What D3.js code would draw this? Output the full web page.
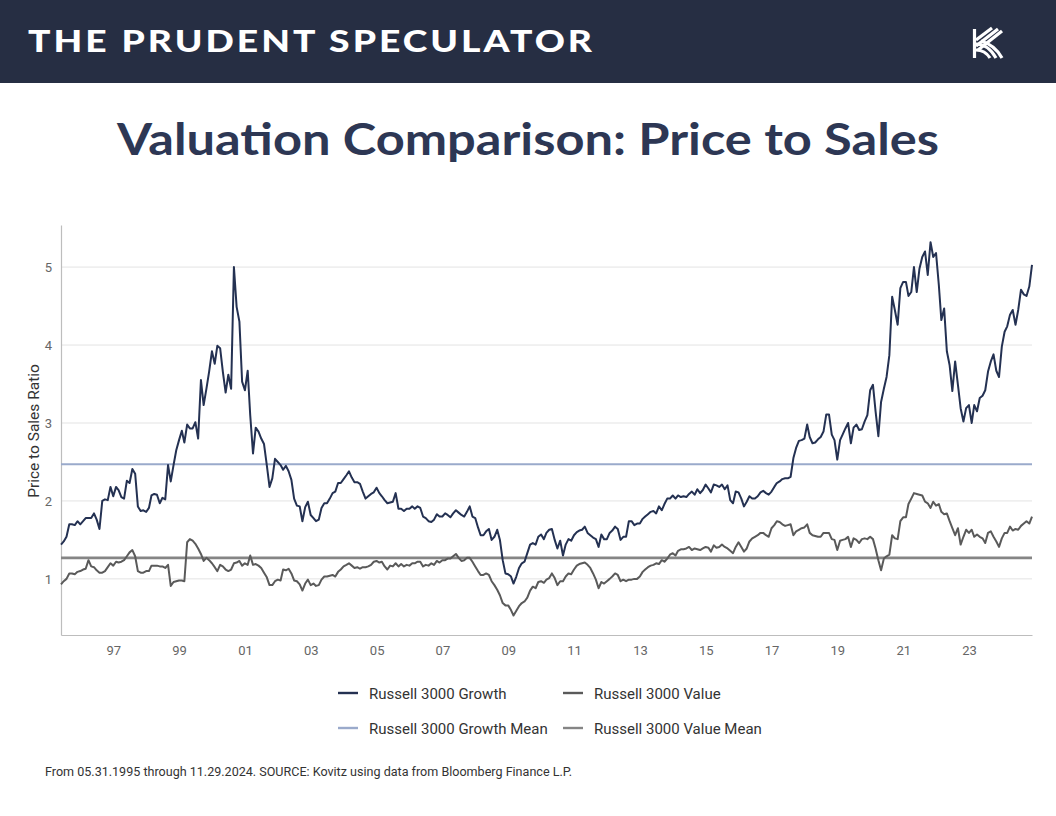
<!DOCTYPE html>
<html>
<head>
<meta charset="utf-8">
<script src="https://cdn.jsdelivr.net/npm/d3@7"></script>
<style>
  html, body { margin: 0; padding: 0; background: #ffffff; }
  svg { display: block; }
</style>
</head>
<body>
<svg id="chart" width="1056" height="816"></svg>
<script>
// ---------------- DATA (month-end values, May 1995 .. Nov 2024) ----------------
const startYear = 1995, startMonth = 4; // May (0-based)
const growth = [
  1.44,1.48,1.54,1.70,1.70,1.69,1.74,1.70,1.74,1.78,
  1.78,1.78,1.84,1.76,1.64,2.00,2.02,2.01,2.18,2.06,
  2.18,2.14,2.05,2.03,2.26,2.23,2.41,2.35,1.93,1.87,
  1.88,1.86,1.91,2.07,2.09,2.08,1.97,2.04,2.02,2.46,
  2.25,2.46,2.65,2.78,2.90,2.75,2.98,2.93,2.93,3.01,
  2.80,3.55,3.23,3.44,3.66,3.92,3.76,3.99,3.96,3.66,
  3.39,3.62,3.44,5.00,4.49,4.30,3.53,3.42,3.67,3.10,
  2.61,2.94,2.89,2.80,2.73,2.46,2.18,2.29,2.54,2.50,
  2.46,2.40,2.45,2.38,2.27,2.03,1.94,1.93,1.74,1.92,
  1.99,1.82,1.78,1.74,1.76,1.91,1.97,1.97,2.03,2.10,
  2.12,2.23,2.23,2.28,2.33,2.38,2.30,2.24,2.24,2.22,
  2.12,2.03,2.06,2.09,2.11,2.17,2.10,2.06,2.01,1.97,
  1.98,1.99,2.10,1.90,1.90,1.87,1.90,1.90,1.93,1.90,
  1.93,1.91,1.80,1.78,1.74,1.73,1.76,1.83,1.80,1.80,
  1.84,1.82,1.79,1.84,1.88,1.85,1.82,1.80,1.86,1.93,
  1.80,1.78,1.66,1.56,1.56,1.61,1.64,1.50,1.54,1.63,
  1.50,1.24,1.07,1.06,1.03,0.94,1.03,1.14,1.20,1.22,
  1.33,1.44,1.46,1.44,1.54,1.57,1.51,1.59,1.63,1.64,
  1.50,1.39,1.49,1.30,1.44,1.51,1.49,1.56,1.60,1.62,
  1.63,1.67,1.59,1.56,1.53,1.51,1.41,1.57,1.51,1.51,
  1.59,1.62,1.67,1.64,1.50,1.54,1.54,1.74,1.74,1.69,
  1.71,1.71,1.77,1.80,1.83,1.86,1.87,1.84,1.93,1.88,
  1.96,2.03,2.03,2.07,2.03,2.07,2.05,2.06,2.05,2.09,
  2.12,2.08,2.15,2.10,2.14,2.21,2.16,2.11,2.21,2.20,
  2.18,2.21,2.15,2.20,2.01,1.97,2.12,2.11,2.03,1.93,
  1.99,2.06,2.03,2.03,2.06,2.11,2.13,2.10,2.08,2.12,
  2.18,2.23,2.25,2.28,2.29,2.29,2.31,2.55,2.68,2.77,
  2.78,2.80,2.98,2.82,2.74,2.75,2.79,2.82,2.89,3.11,
  3.11,2.85,2.78,2.53,2.78,2.85,2.93,3.00,2.74,2.94,
  2.98,2.91,2.92,3.02,3.10,3.42,3.49,3.15,2.83,3.27,
  3.44,3.59,3.87,4.62,4.45,4.26,4.73,4.81,4.81,4.63,
  4.68,5.00,4.68,4.98,5.13,5.20,4.90,5.32,5.13,5.18,
  4.77,4.32,4.47,3.92,3.74,3.41,3.79,3.49,3.19,3.02,
  3.19,3.23,3.00,3.23,3.15,3.32,3.35,3.42,3.66,3.79,
  3.88,3.67,3.59,3.98,4.17,4.24,4.39,4.45,4.26,4.45,
  4.71,4.65,4.63,4.75,5.03
];
const value = [
  0.93,0.97,1.00,1.07,1.07,1.06,1.09,1.10,1.12,1.13,
  1.24,1.16,1.15,1.11,1.08,1.08,1.10,1.15,1.20,1.17,
  1.22,1.21,1.22,1.24,1.29,1.34,1.37,1.29,1.10,1.08,
  1.08,1.10,1.10,1.17,1.17,1.17,1.16,1.16,1.14,1.18,
  0.91,0.96,0.97,0.98,0.98,0.97,1.47,1.51,1.49,1.45,
  1.39,1.32,1.23,1.27,1.24,1.20,1.15,1.10,1.18,1.16,
  1.12,1.10,1.12,1.20,1.21,1.23,1.17,1.20,1.18,1.30,
  1.18,1.19,1.17,1.14,1.08,1.02,0.92,0.92,0.97,0.99,
  0.98,1.12,1.11,1.13,1.07,0.98,0.97,0.93,0.85,0.94,
  0.99,0.92,0.94,0.91,0.92,0.99,1.03,1.03,1.04,1.05,
  1.03,1.09,1.12,1.16,1.18,1.20,1.17,1.14,1.15,1.13,
  1.15,1.15,1.16,1.18,1.22,1.23,1.21,1.22,1.16,1.12,
  1.17,1.16,1.20,1.16,1.19,1.16,1.18,1.17,1.20,1.20,
  1.22,1.22,1.16,1.18,1.17,1.20,1.18,1.23,1.21,1.24,
  1.24,1.26,1.26,1.29,1.32,1.27,1.23,1.24,1.27,1.27,
  1.22,1.16,1.10,1.05,1.05,1.07,1.05,0.97,0.92,0.86,
  0.79,0.69,0.66,0.66,0.60,0.53,0.59,0.65,0.69,0.71,
  0.76,0.85,0.90,0.88,0.96,0.97,0.95,0.99,1.01,1.07,
  1.01,0.92,0.97,0.97,1.03,1.07,1.06,1.12,1.17,1.19,
  1.20,1.21,1.18,1.14,1.07,0.99,0.88,0.96,0.94,0.97,
  1.00,1.03,1.07,1.05,0.97,0.99,0.97,0.99,0.99,1.00,
  1.00,1.03,1.09,1.12,1.15,1.17,1.18,1.20,1.19,1.24,
  1.22,1.26,1.31,1.33,1.30,1.36,1.38,1.38,1.39,1.41,
  1.37,1.39,1.38,1.37,1.39,1.41,1.40,1.35,1.43,1.40,
  1.41,1.44,1.41,1.39,1.36,1.33,1.41,1.47,1.41,1.35,
  1.39,1.48,1.52,1.54,1.56,1.59,1.59,1.56,1.54,1.65,
  1.69,1.74,1.73,1.70,1.68,1.69,1.70,1.56,1.61,1.63,
  1.65,1.66,1.70,1.59,1.56,1.55,1.54,1.54,1.59,1.59,
  1.59,1.51,1.50,1.37,1.49,1.50,1.51,1.54,1.41,1.52,
  1.50,1.46,1.51,1.52,1.51,1.54,1.51,1.39,1.24,1.11,
  1.26,1.29,1.31,1.56,1.52,1.51,1.74,1.79,1.79,1.96,
  2.03,2.10,2.09,2.08,2.07,1.99,1.97,1.91,1.99,1.94,
  1.96,1.86,1.83,1.84,1.74,1.65,1.56,1.65,1.44,1.54,
  1.63,1.59,1.63,1.54,1.57,1.54,1.52,1.46,1.59,1.61,
  1.54,1.48,1.41,1.52,1.59,1.59,1.67,1.62,1.64,1.63,
  1.68,1.71,1.74,1.71,1.80
];
const growthMean = 2.47;
const valueMean = 1.27;
const yTicks = [1, 2, 3, 4, 5];
const xTickYears = [1997, 1999, 2001, 2003, 2005, 2007, 2009, 2011, 2013, 2015, 2017, 2019, 2021, 2023];
const seriesNames = ["Russell 3000 Growth", "Russell 3000 Value", "Russell 3000 Growth Mean", "Russell 3000 Value Mean"];
const seriesColors = ["#243152", "#5a5a5a", "#9aaacb", "#858585"];

// ---------------- BUILD ----------------
const svg = d3.select("#chart");
const W = 1056, H = 816;
const font = "Roboto, 'Liberation Sans', Arial, sans-serif";

// header band
svg.append("rect").attr("x", 0).attr("y", 0).attr("width", W).attr("height", 83).attr("fill", "#262e43");
svg.append("text")
  .attr("x", 28).attr("y", 52)
  .attr("fill", "#ffffff")
  .attr("font-family", "Lato, 'Open Sans', sans-serif")
  .attr("font-weight", 900)
  .attr("font-size", 31)
  .attr("letter-spacing", 2.5)
  .attr("textLength", 567)
  .attr("lengthAdjust", "spacingAndGlyphs")
  .text("THE PRUDENT SPECULATOR");

// logo (stylised K made of stripes)
const logo = svg.append("g").attr("fill", "none").attr("stroke", "#ffffff").attr("stroke-width", 3.2).attr("stroke-linecap", "butt");
logo.append("path").attr("d", "M974.5,29 L974.5,58");
logo.append("path").attr("d", "M976,40 L992,28");
logo.append("path").attr("d", "M976,46 L998,29");
logo.append("path").attr("d", "M978,50 L1002,31");
logo.append("path").attr("d", "M976,44 Q988,44 996,58");
logo.append("path").attr("d", "M976,50 Q985,50 990,58");
logo.append("path").attr("d", "M981,41 Q995,45 1002,58");

// title
svg.append("text")
  .attr("x", 528).attr("y", 155)
  .attr("text-anchor", "middle")
  .attr("fill", "#2d3754")
  .attr("font-family", "Lato, 'Open Sans', sans-serif")
  .attr("font-weight", 700)
  .attr("font-size", 44)
  .attr("textLength", 822)
  .attr("lengthAdjust", "spacingAndGlyphs")
  .text("Valuation Comparison: Price to Sales");

// scales
const dates = growth.map((_, i) => new Date(startYear, startMonth + i + 1, 0));
const x = d3.scaleTime().domain([dates[0], dates[dates.length - 1]]).range([61, 1032]);
const y = d3.scaleLinear().domain([0.28, 5.54]).range([635, 225]);

// gridlines
svg.append("g").selectAll("line").data(yTicks).join("line")
  .attr("x1", x.range()[0]).attr("x2", x.range()[1])
  .attr("y1", d => y(d)).attr("y2", d => y(d))
  .attr("stroke", "#e3e3e3").attr("stroke-width", 1);

// axes
const yAxis = svg.append("g").attr("transform", `translate(${x.range()[0]},0)`)
  .call(d3.axisLeft(y).tickValues(yTicks).tickSize(0).tickPadding(9).tickFormat(d3.format("d")));
yAxis.select(".domain").attr("stroke", "#bdbdbd").attr("stroke-width", 1.2);
yAxis.selectAll("text").attr("font-family", font).attr("font-size", 13).attr("fill", "#666666");

const xAxis = svg.append("g").attr("transform", `translate(0,${y.range()[0]})`)
  .call(d3.axisBottom(x).tickValues(xTickYears.map(yr => new Date(yr, 0, 1))).tickSize(0).tickPadding(11).tickFormat(d3.timeFormat("%y")));
xAxis.select(".domain").attr("stroke", "#bdbdbd").attr("stroke-width", 1.2);
xAxis.selectAll("text").attr("font-family", font).attr("font-size", 13).attr("fill", "#666666");

// y axis title
svg.append("text")
  .attr("transform", "translate(39,431) rotate(-90)")
  .attr("text-anchor", "middle")
  .attr("font-family", font).attr("font-size", 15.5).attr("fill", "#333333")
  .text("Price to Sales Ratio");

// mean lines
[[growthMean, seriesColors[2], 2], [valueMean, seriesColors[3], 2.6]].forEach(([m, c, w]) => {
  svg.append("line")
    .attr("x1", x.range()[0]).attr("x2", x.range()[1])
    .attr("y1", y(m)).attr("y2", y(m))
    .attr("stroke", c).attr("stroke-width", w);
});

// series lines
const line = d3.line().x((d, i) => x(dates[i])).y(d => y(d));
svg.append("path").datum(value).attr("d", line)
  .attr("fill", "none").attr("stroke", seriesColors[1]).attr("stroke-width", 2).attr("stroke-linejoin", "round");
svg.append("path").datum(growth).attr("d", line)
  .attr("fill", "none").attr("stroke", seriesColors[0]).attr("stroke-width", 2).attr("stroke-linejoin", "round");

// legend
const legendPos = [[338, 693], [563, 693], [338, 728], [563, 728]];
const lg = svg.append("g");
seriesNames.forEach((name, i) => {
  const [lx, ly] = legendPos[i];
  lg.append("line").attr("x1", lx).attr("x2", lx + 20).attr("y1", ly).attr("y2", ly)
    .attr("stroke", seriesColors[i]).attr("stroke-width", 2.4);
  lg.append("text").attr("x", lx + 31).attr("y", ly + 5.5)
    .attr("font-family", font).attr("font-size", 15).attr("fill", "#333333")
    .text(name);
});

// footer
svg.append("text")
  .attr("x", 45).attr("y", 776)
  .attr("font-family", font).attr("font-size", 12.3).attr("fill", "#333333")
  .attr("textLength", 527).attr("lengthAdjust", "spacingAndGlyphs")
  .text("From 05.31.1995 through 11.29.2024. SOURCE: Kovitz using data from Bloomberg Finance L.P.");
</script>
</body>
</html>
